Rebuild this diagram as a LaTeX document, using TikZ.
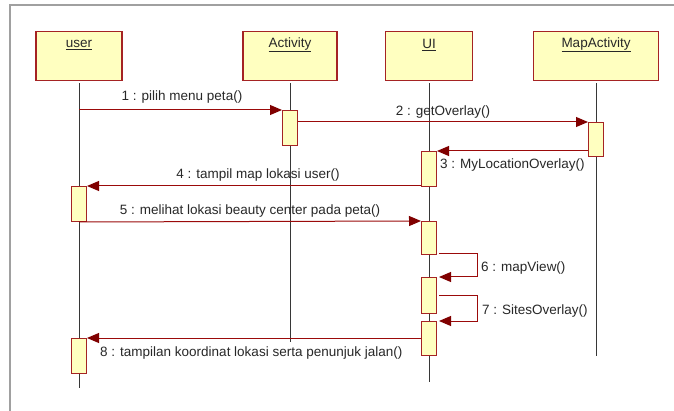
\documentclass[tikz,border=0pt]{standalone}
\usepackage{fontspec}
\setmainfont{Liberation Sans}
\usetikzlibrary{arrows.meta}
\definecolor{boxfill}{RGB}{255,255,192}
\definecolor{boxdraw}{RGB}{165,35,35}
\definecolor{msgcol}{RGB}{155,10,10}
\definecolor{tipcol}{RGB}{128,0,0}
\definecolor{lifecol}{RGB}{55,55,55}
\definecolor{framecol}{RGB}{160,160,160}
\definecolor{txtcol}{RGB}{40,40,40}
\begin{document}
\begin{tikzpicture}[x=1pt,y=-1pt,
  obj/.style={draw=boxdraw, fill=boxfill, line width=1.1pt, minimum height=49pt, inner sep=0pt, anchor=north},
  objlbl/.style={font=\fontsize{13.5}{16}\selectfont, text=txtcol, inner sep=0pt},
  act/.style={draw=boxdraw, fill=boxfill, line width=1pt, minimum width=15pt, inner sep=0pt, anchor=north},
  life/.style={draw=lifecol, line width=0.9pt},
  msg/.style={draw=msgcol, line width=1pt, -{Triangle[length=12pt,width=10pt,color=tipcol]}},
  mlbl/.style={font=\fontsize{13.5}{16}\selectfont, text=txtcol, inner sep=0pt}
]
\useasboundingbox (0,0) rectangle (674,411);
\fill[white] (0,0) rectangle (674,411);
\draw[framecol, line width=2pt] (10,411) -- (10,5) -- (674,5);

% objects
\node[obj, minimum width=86pt] (user) at (79,31) {};
\node[obj, minimum width=94pt] (activity) at (290,31) {};
\node[obj, minimum width=87pt] (ui) at (429,31) {};
\node[obj, minimum width=125pt] (mapact) at (596,31) {};
\node[objlbl] (userL) at ([yshift=-14pt]user.north) {\underline{user}};
\node[objlbl] (activityL) at ([yshift=-14pt]activity.north) {\underline{Activity}};
\node[objlbl] (uiL) at ([yshift=-14pt]ui.north) {\underline{UI}};
\node[objlbl] (mapactL) at ([yshift=-14pt]mapact.north) {\underline{MapActivity}};

% lifeline ends
\coordinate (userEnd) at (79,388);
\coordinate (activityEnd) at (290,342);
\coordinate (uiEnd) at (429,382);
\coordinate (mapactEnd) at (596,356);
\draw[life] ([yshift=-2pt]user.south) -- (userEnd);
\draw[life] ([yshift=-2pt]activity.south) -- (activityEnd);
\draw[life] ([yshift=-2pt]ui.south) -- (uiEnd);
\draw[life] ([yshift=-2pt]mapact.south) -- (mapactEnd);

% activations
\node[act, minimum height=35pt] (a1) at (290,110) {};
\node[act, minimum height=34pt] (a2) at (596,122) {};
\node[act, minimum height=35pt] (ui1) at (429,151) {};
\node[act, minimum height=35pt] (u1) at (79,186) {};
\node[act, minimum height=33pt] (ui2) at (429,221) {};
\node[act, minimum height=36pt] (ui3) at (429,277) {};
\node[act, minimum height=34pt] (ui4) at (429,321) {};
\node[act, minimum height=35pt] (u2) at (79,338) {};

% messages
\draw[msg] (user.south |- a1.north) -- (a1.north west);
\draw[msg] (a1.east |- a2.north) -- (a2.north west);
\draw[msg] (a2.west |- ui1.north) -- (ui1.north east);
\draw[msg] (ui1.west |- u1.north) -- (u1.north east);
\draw[msg] (u1.south) -- (ui2.north west);
\draw[msg] ([xshift=2pt,yshift=1pt]ui2.south east) -- ++(38,0) |- ([xshift=2pt]ui3.north east);
\draw[msg] ([xshift=2pt,yshift=0pt]ui3.east) -- ++(38,0) |- ([xshift=2pt]ui4.north east);
\draw[msg] (ui4.west |- u2.north) -- (u2.north east);

% message labels
\node[mlbl] (l1) at (182,97) {1 : pilih menu peta()};
\node[mlbl] (l2) at (443,112) {2 : getOverlay()};
\node[mlbl, anchor=west] (l3) at (440,165) {3 : MyLocationOverlay()};
\node[mlbl] (l4) at (258,175) {4 : tampil map lokasi user()};
\node[mlbl] (l5) at (250,211) {5 : melihat lokasi beauty center pada peta()};
\node[mlbl, anchor=west] (l6) at (481,268) {6 : mapView()};
\node[mlbl, anchor=west] (l7) at (482,311) {7 : SitesOverlay()};
\node[mlbl, anchor=west] (l8) at (100,353) {8 : tampilan koordinat lokasi serta penunjuk jalan()};
\end{tikzpicture}
\end{document}
